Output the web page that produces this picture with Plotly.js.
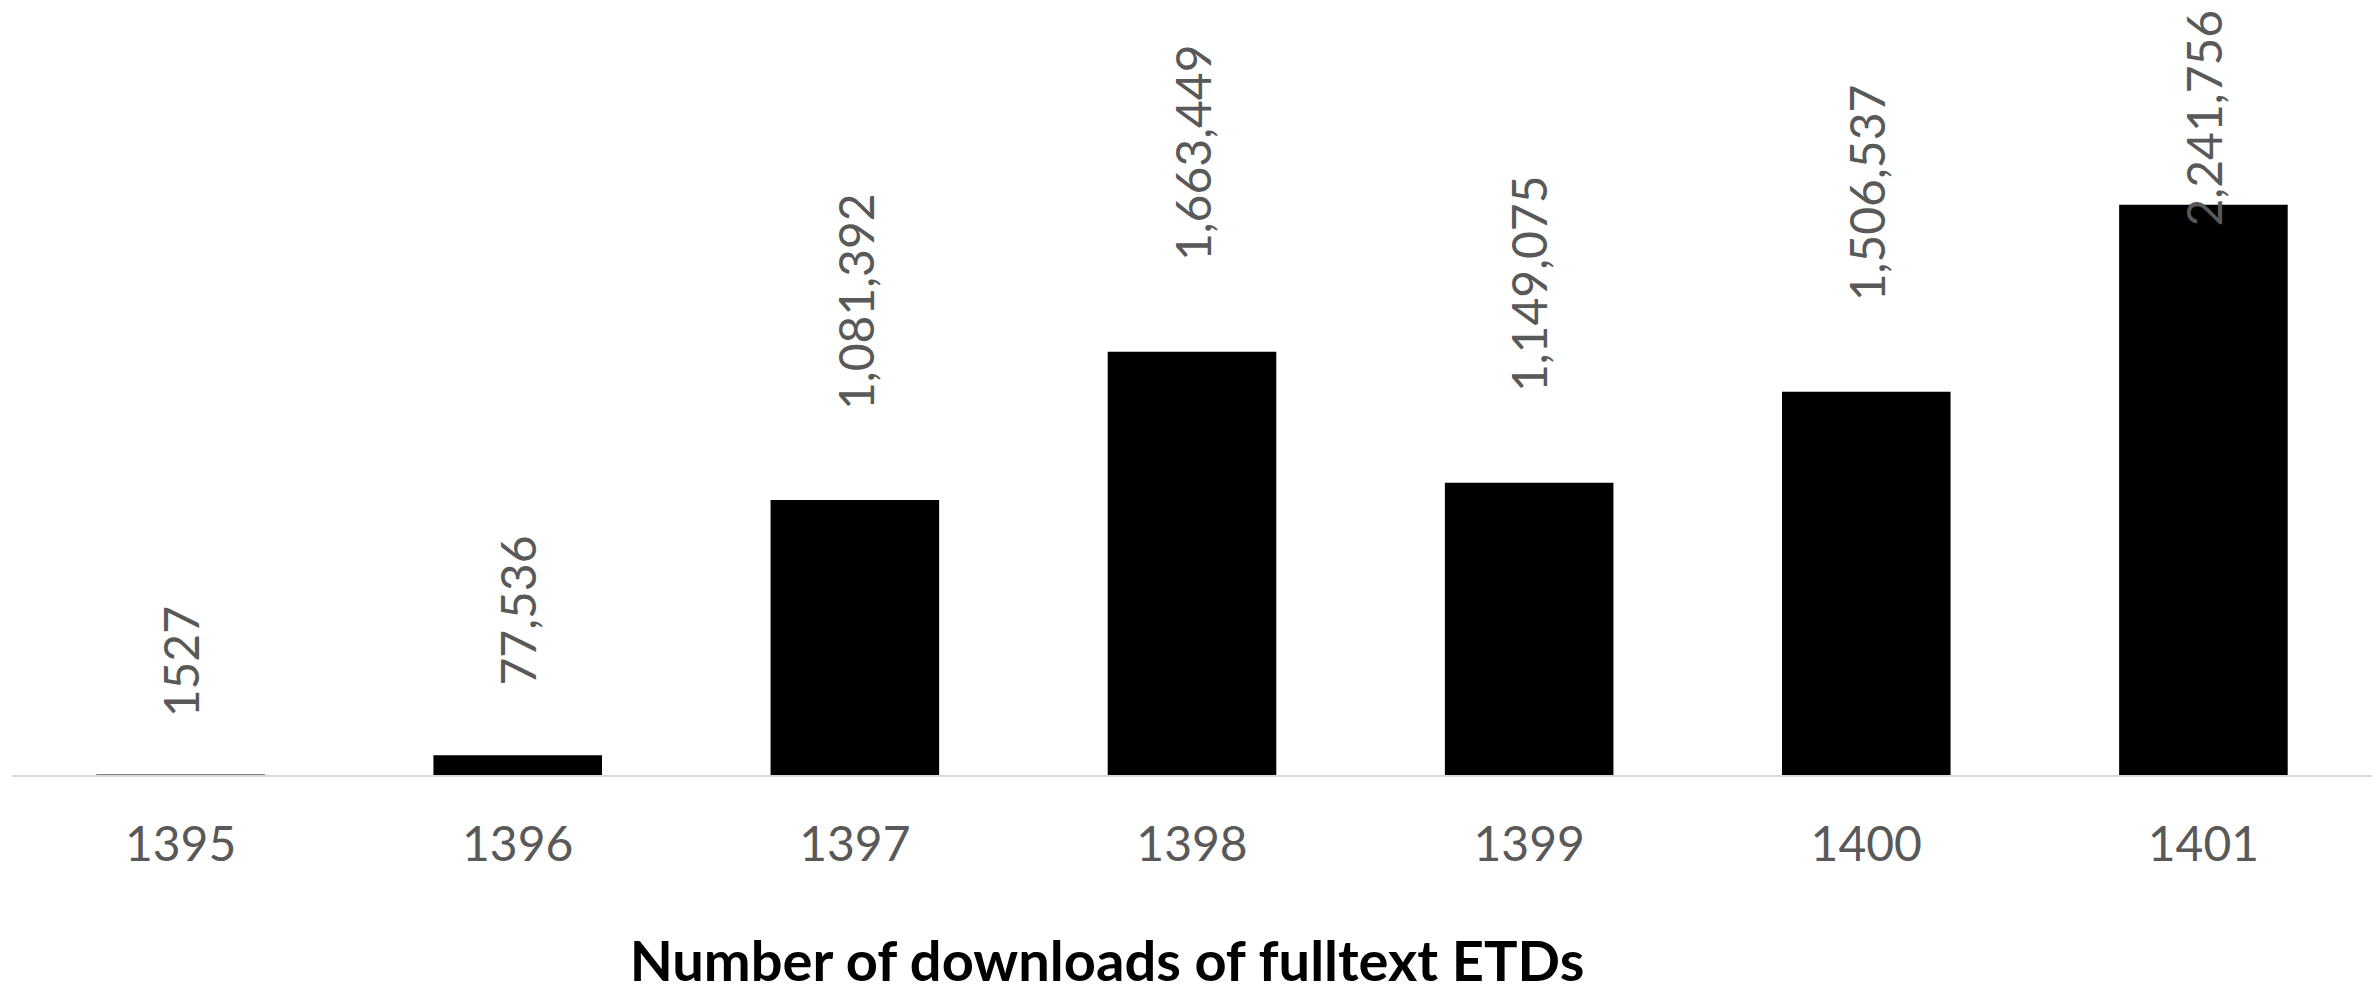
<!DOCTYPE html>
<html>
<head>
<meta charset="utf-8">
<script src="https://cdn.plot.ly/plotly-3.0.1.min.js"></script>
<style>
  html, body { margin: 0; padding: 0; background: #ffffff; }
  #chart { width: 2374px; height: 995px; }
</style>
</head>
<body>
<div id="chart"></div>
<script>
// ---- data ----
var years = ["1395", "1396", "1397", "1398", "1399", "1400", "1401"];
var downloads = [1527, 77536, 1081392, 1663449, 1149075, 1506537, 2241756];
var labelTexts = ["1527", "77,536", "1,081,392", "1,663,449", "1,149,075", "1,506,537", "2,241,756"];
var chartTitle = "Number of downloads of fulltext ETDs";

var labelColor = "#595959";
var fontFamily = "Lato, 'Open Sans', sans-serif";

var trace = {
  type: "bar",
  x: years,
  y: downloads,
  marker: { color: "#000000", line: { width: 0 } },
  hoverinfo: "none"
};

// on a category axis an annotation is positioned by category index
var annotations = years.map(function (yr, i) {
  return {
    x: i,
    y: downloads[i],
    xref: "x",
    yref: "y",
    text: labelTexts[i],
    textangle: -90,
    showarrow: false,
    xanchor: "center",
    yanchor: "bottom",
    yshift: 0,
    font: { family: fontFamily, size: 48, color: labelColor }
  };
});

var layout = {
  width: 2374,
  height: 995,
  margin: { l: 12, r: 2, t: 139, b: 220, pad: 0 },
  paper_bgcolor: "#ffffff",
  plot_bgcolor: "#ffffff",
  showlegend: false,
  bargap: 0.5,
  title: {
    text: chartTitle,
    font: { family: fontFamily, size: 56, color: "#000000", weight: "bold" },
    xref: "container",
    yref: "container",
    x: 0.4663,
    xanchor: "center",
    y: 0.034,
    yanchor: "middle"
  },
  xaxis: {
    type: "category",
    range: [-0.5, years.length - 0.5],
    autorange: false,
    showline: true,
    linecolor: "#d9d9d9",
    linewidth: 2,
    showgrid: false,
    zeroline: false,
    ticks: "",
    ticklabelstandoff: 26,
    tickfont: { family: fontFamily, size: 48, color: labelColor },
    fixedrange: true
  },
  yaxis: {
    range: [0, 2500000],
    autorange: false,
    showgrid: false,
    zeroline: false,
    showline: false,
    showticklabels: false,
    ticks: "",
    fixedrange: true
  },
  annotations: annotations
};

Plotly.newPlot("chart", [trace], layout, { displayModeBar: false, staticPlot: true }).then(function (gd) {
  // Excel-like label placement: gap above bar grows with label length,
  // and labels are kept inside the chart area at the top.
  var upd = {};
  var root = gd.getBoundingClientRect();
  for (var i = 0; i < annotations.length; i++) {
    var el = gd.querySelector('.annotation[data-index="' + i + '"]');
    if (!el) continue;
    var r = el.getBoundingClientRect();
    var barTop = r.bottom - root.top;
    var len = r.height;
    var gap = 20 + 0.31 * len;
    var maxShift = barTop - len - 8;
    upd["annotations[" + i + "].yshift"] = Math.min(gap, maxShift);
  }
  return Plotly.relayout(gd, upd);
});
</script>
</body>
</html>
